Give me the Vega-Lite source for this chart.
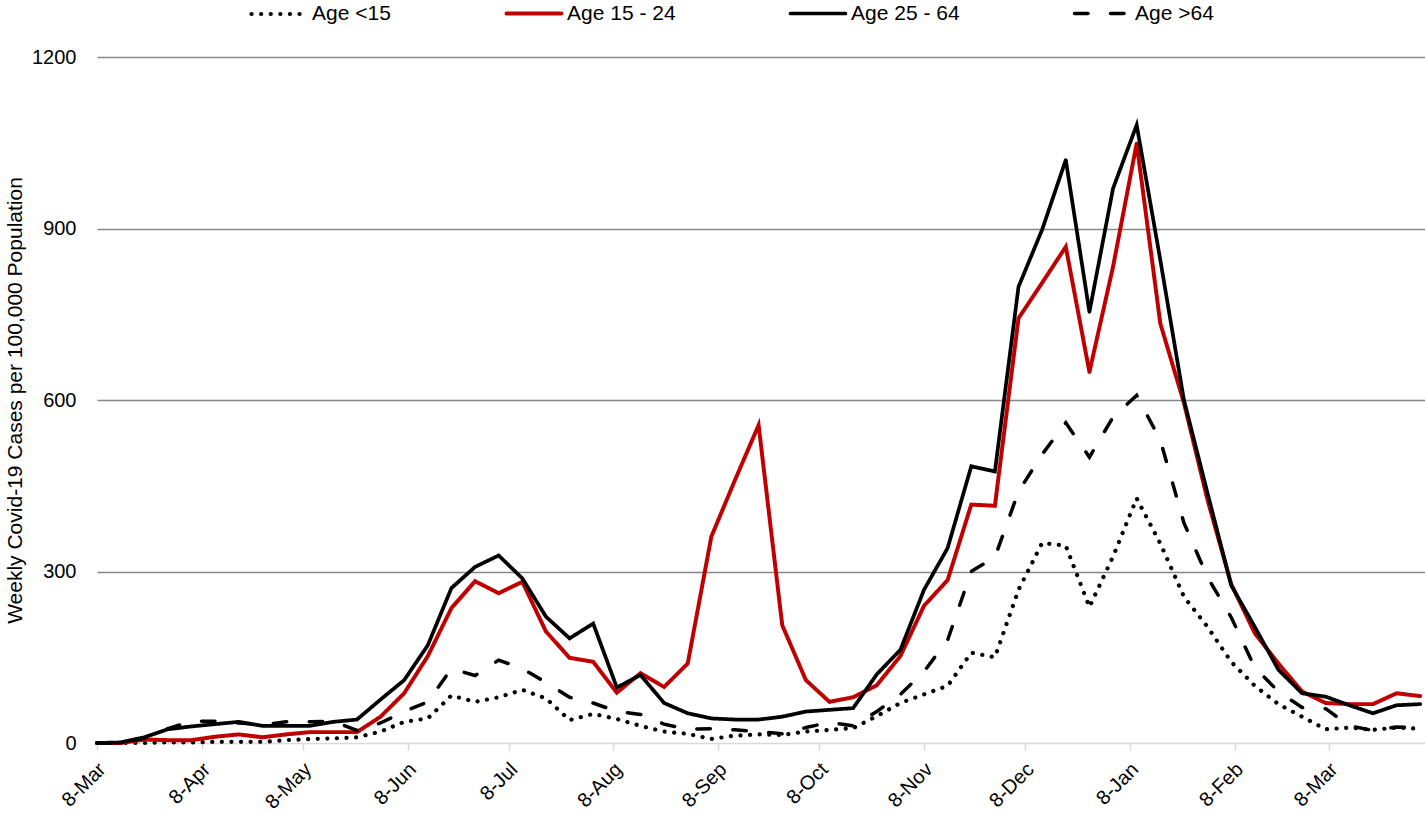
{
  "$schema": "https://vega.github.io/schema/vega-lite/v6.json",
  "width": 1328,
  "height": 686,
  "autosize": "none",
  "padding": {"left": 97, "top": 57, "right": 0, "bottom": 71},
  "config": {"font": "Liberation Sans", "view": {"stroke": null}, "background": "white"},
  "data": {"values": [
    {"d": "2020-03-08", "Age <15": 0, "Age 15 - 24": 0, "Age 25 - 64": 0, "Age >64": 0},
    {"d": "2020-03-15", "Age <15": 0, "Age 15 - 24": 0, "Age 25 - 64": 1, "Age >64": 0},
    {"d": "2020-03-22", "Age <15": 0, "Age 15 - 24": 6, "Age 25 - 64": 10, "Age >64": 8},
    {"d": "2020-03-29", "Age <15": 1, "Age 15 - 24": 5, "Age 25 - 64": 24, "Age >64": 25},
    {"d": "2020-04-05", "Age <15": 1, "Age 15 - 24": 5, "Age 25 - 64": 29, "Age >64": 38},
    {"d": "2020-04-12", "Age <15": 2, "Age 15 - 24": 11, "Age 25 - 64": 33, "Age >64": 38},
    {"d": "2020-04-19", "Age <15": 2, "Age 15 - 24": 15, "Age 25 - 64": 37, "Age >64": 35},
    {"d": "2020-04-26", "Age <15": 2, "Age 15 - 24": 10, "Age 25 - 64": 30, "Age >64": 32},
    {"d": "2020-05-03", "Age <15": 5, "Age 15 - 24": 15, "Age 25 - 64": 30, "Age >64": 37},
    {"d": "2020-05-10", "Age <15": 7, "Age 15 - 24": 19, "Age 25 - 64": 30, "Age >64": 37},
    {"d": "2020-05-17", "Age <15": 8, "Age 15 - 24": 19, "Age 25 - 64": 37, "Age >64": 38},
    {"d": "2020-05-24", "Age <15": 10, "Age 15 - 24": 19, "Age 25 - 64": 41, "Age >64": 22},
    {"d": "2020-05-31", "Age <15": 20, "Age 15 - 24": 46, "Age 25 - 64": 76, "Age >64": 35},
    {"d": "2020-06-07", "Age <15": 37, "Age 15 - 24": 87, "Age 25 - 64": 110, "Age >64": 55},
    {"d": "2020-06-14", "Age <15": 43, "Age 15 - 24": 152, "Age 25 - 64": 171, "Age >64": 72},
    {"d": "2020-06-21", "Age <15": 83, "Age 15 - 24": 236, "Age 25 - 64": 271, "Age >64": 130},
    {"d": "2020-06-28", "Age <15": 72, "Age 15 - 24": 283, "Age 25 - 64": 308, "Age >64": 118},
    {"d": "2020-07-05", "Age <15": 80, "Age 15 - 24": 262, "Age 25 - 64": 328, "Age >64": 145},
    {"d": "2020-07-12", "Age <15": 93, "Age 15 - 24": 282, "Age 25 - 64": 288, "Age >64": 130},
    {"d": "2020-07-19", "Age <15": 78, "Age 15 - 24": 195, "Age 25 - 64": 221, "Age >64": 106},
    {"d": "2020-07-26", "Age <15": 40, "Age 15 - 24": 149, "Age 25 - 64": 183, "Age >64": 80},
    {"d": "2020-08-02", "Age <15": 51, "Age 15 - 24": 142, "Age 25 - 64": 209, "Age >64": 70},
    {"d": "2020-08-09", "Age <15": 42, "Age 15 - 24": 88, "Age 25 - 64": 97, "Age >64": 55},
    {"d": "2020-08-16", "Age <15": 30, "Age 15 - 24": 122, "Age 25 - 64": 119, "Age >64": 50},
    {"d": "2020-08-23", "Age <15": 20, "Age 15 - 24": 98, "Age 25 - 64": 70, "Age >64": 33},
    {"d": "2020-08-30", "Age <15": 16, "Age 15 - 24": 139, "Age 25 - 64": 52, "Age >64": 24},
    {"d": "2020-09-06", "Age <15": 7, "Age 15 - 24": 361, "Age 25 - 64": 43, "Age >64": 25},
    {"d": "2020-09-13", "Age <15": 13, "Age 15 - 24": 460, "Age 25 - 64": 41, "Age >64": 23},
    {"d": "2020-09-20", "Age <15": 15, "Age 15 - 24": 556, "Age 25 - 64": 41, "Age >64": 20},
    {"d": "2020-09-27", "Age <15": 14, "Age 15 - 24": 206, "Age 25 - 64": 46, "Age >64": 16},
    {"d": "2020-10-04", "Age <15": 20, "Age 15 - 24": 110, "Age 25 - 64": 55, "Age >64": 27},
    {"d": "2020-10-11", "Age <15": 23, "Age 15 - 24": 72, "Age 25 - 64": 58, "Age >64": 36},
    {"d": "2020-10-18", "Age <15": 26, "Age 15 - 24": 80, "Age 25 - 64": 61, "Age >64": 30},
    {"d": "2020-10-25", "Age <15": 47, "Age 15 - 24": 101, "Age 25 - 64": 120, "Age >64": 55},
    {"d": "2020-11-01", "Age <15": 70, "Age 15 - 24": 152, "Age 25 - 64": 163, "Age >64": 85},
    {"d": "2020-11-08", "Age <15": 85, "Age 15 - 24": 240, "Age 25 - 64": 268, "Age >64": 125},
    {"d": "2020-11-15", "Age <15": 100, "Age 15 - 24": 285, "Age 25 - 64": 341, "Age >64": 180},
    {"d": "2020-11-22", "Age <15": 158, "Age 15 - 24": 417, "Age 25 - 64": 484, "Age >64": 300},
    {"d": "2020-11-29", "Age <15": 150, "Age 15 - 24": 415, "Age 25 - 64": 475, "Age >64": 325},
    {"d": "2020-12-06", "Age <15": 268, "Age 15 - 24": 743, "Age 25 - 64": 798, "Age >64": 440},
    {"d": "2020-12-13", "Age <15": 350, "Age 15 - 24": 805, "Age 25 - 64": 898, "Age >64": 505},
    {"d": "2020-12-20", "Age <15": 345, "Age 15 - 24": 868, "Age 25 - 64": 1020, "Age >64": 560},
    {"d": "2020-12-27", "Age <15": 238, "Age 15 - 24": 649, "Age 25 - 64": 754, "Age >64": 500},
    {"d": "2021-01-03", "Age <15": 326, "Age 15 - 24": 833, "Age 25 - 64": 970, "Age >64": 570},
    {"d": "2021-01-10", "Age <15": 428, "Age 15 - 24": 1049, "Age 25 - 64": 1081, "Age >64": 608},
    {"d": "2021-01-17", "Age <15": 349, "Age 15 - 24": 734, "Age 25 - 64": 845, "Age >64": 530},
    {"d": "2021-01-24", "Age <15": 256, "Age 15 - 24": 595, "Age 25 - 64": 600, "Age >64": 385},
    {"d": "2021-01-31", "Age <15": 203, "Age 15 - 24": 425, "Age 25 - 64": 437, "Age >64": 290},
    {"d": "2021-02-07", "Age <15": 142, "Age 15 - 24": 278, "Age 25 - 64": 276, "Age >64": 220},
    {"d": "2021-02-14", "Age <15": 100, "Age 15 - 24": 192, "Age 25 - 64": 203, "Age >64": 132},
    {"d": "2021-02-21", "Age <15": 68, "Age 15 - 24": 139, "Age 25 - 64": 128, "Age >64": 90},
    {"d": "2021-02-28", "Age <15": 46, "Age 15 - 24": 90, "Age 25 - 64": 87, "Age >64": 62},
    {"d": "2021-03-07", "Age <15": 24, "Age 15 - 24": 70, "Age 25 - 64": 81, "Age >64": 60},
    {"d": "2021-03-14", "Age <15": 27, "Age 15 - 24": 68, "Age 25 - 64": 66, "Age >64": 30},
    {"d": "2021-03-21", "Age <15": 23, "Age 15 - 24": 68, "Age 25 - 64": 52, "Age >64": 22},
    {"d": "2021-03-28", "Age <15": 27, "Age 15 - 24": 87, "Age 25 - 64": 66, "Age >64": 28},
    {"d": "2021-04-04", "Age <15": 25, "Age 15 - 24": 82, "Age 25 - 64": 68, "Age >64": 26}
  ]},
  "transform": [{"fold": ["Age <15", "Age 15 - 24", "Age 25 - 64", "Age >64"], "as": ["age", "v"]}],
  "mark": {"type": "line", "strokeCap": "round", "strokeJoin": "miter", "strokeMiterLimit": 4},
  "encoding": {
    "x": {
      "field": "d", "type": "temporal",
      "scale": {"type": "utc", "nice": false, "domain": [
        {"year": 2020, "month": 3, "date": 8, "utc": true},
        {"year": 2021, "month": 4, "date": 5, "hours": 10, "utc": true}
      ]},
      "axis": {
        "title": null,
        "values": [
          {"year": 2020, "month": 3, "date": 8, "utc": true},
          {"year": 2020, "month": 4, "date": 8, "utc": true},
          {"year": 2020, "month": 5, "date": 8, "utc": true},
          {"year": 2020, "month": 6, "date": 8, "utc": true},
          {"year": 2020, "month": 7, "date": 8, "utc": true},
          {"year": 2020, "month": 8, "date": 8, "utc": true},
          {"year": 2020, "month": 9, "date": 8, "utc": true},
          {"year": 2020, "month": 10, "date": 8, "utc": true},
          {"year": 2020, "month": 11, "date": 8, "utc": true},
          {"year": 2020, "month": 12, "date": 8, "utc": true},
          {"year": 2021, "month": 1, "date": 8, "utc": true},
          {"year": 2021, "month": 2, "date": 8, "utc": true},
          {"year": 2021, "month": 3, "date": 8, "utc": true}
        ],
        "format": "%-d-%b",
        "labelAngle": -45,
        "labelAlign": "right",
        "labelBaseline": "middle",
        "labelFontSize": 20,
        "labelColor": "#000000",
        "labelPadding": 16,
        "labelOffset": 5,
        "labelFlush": false,
        "labelOverlap": false,
        "labelBound": false,
        "grid": false,
        "domainColor": "#d9d9d9",
        "domainWidth": 1.5,
        "tickColor": "#d9d9d9",
        "tickWidth": 1.5,
        "tickSize": 7
      }
    },
    "y": {
      "field": "v", "type": "quantitative",
      "scale": {"domain": [0, 1200], "nice": false},
      "axis": {
        "title": "Weekly Covid-19 Cases per 100,000 Population",
        "titleFontSize": 21,
        "titleFontWeight": "normal",
        "titleColor": "#000000",
        "titlePadding": 6,
        "values": [0, 300, 600, 900, 1200],
        "format": "d",
        "labelFontSize": 20,
        "labelColor": "#000000",
        "labelPadding": 21,
        "ticks": false,
        "domain": false,
        "grid": true,
        "gridColor": {"condition": {"test": "datum.value === 0", "value": "transparent"}, "value": "#878787"},
        "gridWidth": 1.3
      }
    },
    "strokeWidth": {
      "field": "age", "type": "nominal",
      "scale": {"domain": ["Age <15", "Age 15 - 24", "Age 25 - 64", "Age >64"], "range": [4.2, 3.5, 3.5, 3.5]},
      "legend": null
    },
    "color": {
      "field": "age", "type": "nominal",
      "scale": {"domain": ["Age <15", "Age 15 - 24", "Age 25 - 64", "Age >64"], "range": ["#000000", "#C00000", "#000000", "#000000"]},
      "legend": {
        "title": null, "orient": "none", "legendX": 152, "legendY": -73,
        "direction": "horizontal", "columns": 4, "gridAlign": "none", "columnPadding": 107,
        "symbolType": "stroke", "symbolSize": 3025, "symbolStrokeWidth": 3.5,
        "labelFontSize": 21, "labelColor": "#000000", "labelOffset": 3, "padding": 0, "labelLimit": 300,
        "encode": {"symbols": {"update": {"strokeCap": {"value": "round"}}}}
      }
    },
    "strokeDash": {
      "field": "age", "type": "nominal",
      "scale": {"domain": ["Age <15", "Age 15 - 24", "Age 25 - 64", "Age >64"], "range": [[0.1, 9.5], [1, 0], [1, 0], [13.5, 22.5]]},
      "legend": {
        "title": null, "orient": "none", "legendX": 152, "legendY": -73,
        "direction": "horizontal", "columns": 4, "gridAlign": "none", "columnPadding": 107,
        "symbolType": "stroke", "symbolSize": 3025, "symbolStrokeWidth": 3.5,
        "labelFontSize": 21, "labelColor": "#000000", "labelOffset": 3, "padding": 0, "labelLimit": 300,
        "encode": {"symbols": {"update": {"strokeCap": {"value": "round"}}}}
      }
    }
  }
}
